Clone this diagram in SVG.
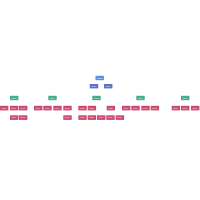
<svg xmlns="http://www.w3.org/2000/svg" width="200" height="200" viewBox="0 0 200 200">
<style>
.n{stroke:none}
.root{fill:#4f95e3}
.b{fill:#5672cc}
.g{fill:#3fae8c}
.r{fill:#cc4a6e}
text{font-family:"Liberation Sans",Arial,sans-serif;font-size:2.4px;fill:#ffffff}
</style>
<rect width="200" height="200" fill="#ffffff"/>
<g id="connectors"></g>
<g id="root"><rect class="n root" x="95.5" y="75.8" width="8.4" height="4.4"/><text x="97" y="78.8">Root</text></g>
<g id="b1"><rect class="n b" x="89.8" y="84" width="8.4" height="4.4"/><text x="91.3" y="87">Item</text></g>
<g id="b2"><rect class="n b" x="104" y="84" width="8.4" height="4.4"/><text x="105.5" y="87">Item</text></g>
<g id="g1"><rect class="n g" x="10" y="95.8" width="8.4" height="4.4"/><text x="11.5" y="98.8">Item</text></g>
<g id="g2"><rect class="n g" x="48.3" y="95.8" width="8.4" height="4.4"/><text x="49.8" y="98.8">Item</text></g>
<g id="g3"><rect class="n g" x="92.3" y="95.8" width="8.4" height="4.4"/><text x="93.8" y="98.8">Item</text></g>
<g id="g4"><rect class="n g" x="136.3" y="95.8" width="8.4" height="4.4"/><text x="137.8" y="98.8">Item</text></g>
<g id="g5"><rect class="n g" x="181" y="95.8" width="8.4" height="4.4"/><text x="182.5" y="98.8">Item</text></g>
<g id="r1"><rect class="n r" x="0" y="105.8" width="8.4" height="4.6"/><text x="1.5" y="108.9">Item</text></g>
<g id="r2"><rect class="n r" x="10" y="105.8" width="8.4" height="4.6"/><text x="11.5" y="108.9">Item</text></g>
<g id="r3"><rect class="n r" x="19" y="105.8" width="8.4" height="4.6"/><text x="20.5" y="108.9">Item</text></g>
<g id="r4"><rect class="n r" x="34" y="105.8" width="8.4" height="4.6"/><text x="35.5" y="108.9">Item</text></g>
<g id="r5"><rect class="n r" x="43.3" y="105.8" width="8.4" height="4.6"/><text x="44.8" y="108.9">Item</text></g>
<g id="r6"><rect class="n r" x="53.3" y="105.8" width="8.4" height="4.6"/><text x="54.8" y="108.9">Item</text></g>
<g id="r7"><rect class="n r" x="63.3" y="105.8" width="8.4" height="4.6"/><text x="64.8" y="108.9">Item</text></g>
<g id="r8"><rect class="n r" x="78.3" y="105.8" width="8.4" height="4.6"/><text x="79.8" y="108.9">Item</text></g>
<g id="r9"><rect class="n r" x="87.7" y="105.8" width="8.4" height="4.6"/><text x="89.2" y="108.9">Item</text></g>
<g id="r10"><rect class="n r" x="106.7" y="105.8" width="8.4" height="4.6"/><text x="108.2" y="108.9">Item</text></g>
<g id="r11"><rect class="n r" x="122" y="105.8" width="8.4" height="4.6"/><text x="123.5" y="108.9">Item</text></g>
<g id="r12"><rect class="n r" x="131.3" y="105.8" width="8.4" height="4.6"/><text x="132.8" y="108.9">Item</text></g>
<g id="r13"><rect class="n r" x="141.3" y="105.8" width="8.4" height="4.6"/><text x="142.8" y="108.9">Item</text></g>
<g id="r14"><rect class="n r" x="150.7" y="105.8" width="8.4" height="4.6"/><text x="152.2" y="108.9">Item</text></g>
<g id="r15"><rect class="n r" x="171.7" y="105.8" width="8.4" height="4.6"/><text x="173.2" y="108.9">Item</text></g>
<g id="r16"><rect class="n r" x="181" y="105.8" width="8.4" height="4.6"/><text x="182.5" y="108.9">Item</text></g>
<g id="r17"><rect class="n r" x="191" y="105.8" width="8.4" height="4.6"/><text x="192.5" y="108.9">Item</text></g>
<g id="r18"><rect class="n r" x="10" y="115.3" width="8.4" height="4.6"/><text x="11.5" y="118.4">Item</text></g>
<g id="r19"><rect class="n r" x="19" y="115.3" width="8.4" height="4.6"/><text x="20.5" y="118.4">Item</text></g>
<g id="r20"><rect class="n r" x="63.3" y="115.3" width="8.4" height="4.6"/><text x="64.8" y="118.4">Item</text></g>
<g id="r21"><rect class="n r" x="78.3" y="115.3" width="8.4" height="4.6"/><text x="79.8" y="118.4">Item</text></g>
<g id="r22"><rect class="n r" x="87.7" y="115.3" width="8.4" height="4.6"/><text x="89.2" y="118.4">Item</text></g>
<g id="r23"><rect class="n r" x="97" y="115.3" width="8.4" height="4.6"/><text x="98.5" y="118.4">Item</text></g>
<g id="r24"><rect class="n r" x="106.3" y="115.3" width="8.4" height="4.6"/><text x="107.8" y="118.4">Item</text></g>
<g id="r25"><rect class="n r" x="115.7" y="115.3" width="8.4" height="4.6"/><text x="117.2" y="118.4">Item</text></g>
</svg>
